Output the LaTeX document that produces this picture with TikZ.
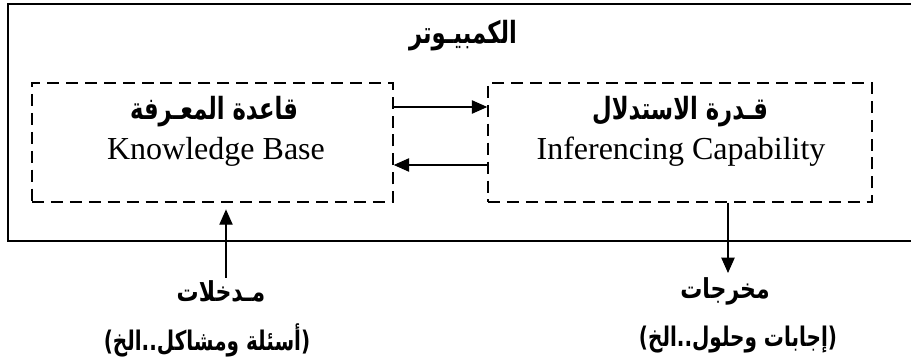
\documentclass[tikz,border=0pt]{standalone}
\usepackage{fontspec}
\setmainfont{Liberation Serif}
\newfontfamily\arb[Script=Arabic]{DejaVu Sans}
\TeXXeTstate=1
\usetikzlibrary{arrows.meta,calc}

% heavy, slightly tall Arabic line
\newcommand{\artext}[2][1.35]{\scalebox{1}[#1]{\arb\bfseries\beginR #2\endR}}

\tikzset{
  frame/.style={line width=1.5pt},
  dashbox/.style={draw, line width=1.1pt, dash pattern=on 9pt off 5.2pt,
    minimum height=89.25pt, inner sep=0pt},
  arr/.style={line width=0.9pt, -{Triangle[length=11.5pt,width=10pt]}},
  entxt/.style={font=\fontsize{24}{27}\selectfont},
  artitle/.style={font=\fontsize{17}{20}\selectfont},
  arlab/.style={font=\fontsize{16.5}{19}\selectfont},
  arnote/.style={font=\fontsize{15}{18}\selectfont},
}

\begin{document}
\begin{tikzpicture}[x=0.75pt,y=-0.75pt]
  \clip (0,0) rectangle (911,359);

  % the computer: open on the right side
  \draw[frame] (8,4) rectangle (930,241);
  \node[artitle] (title) at (463,36) {\artext{الكمبيـوتر}};

  % the two inner units
  \node[dashbox, minimum width=270.75pt] (kb) at (212.5,142.5) {};
  \node[dashbox, minimum width=288pt] (ic) at (680,142.5) {};

  \node[artitle] (kbar) at (214,112) {\artext{قاعدة المعـرفة}};
  \node[entxt, anchor=base] (kben) at (216,160) {Knowledge Base};
  \node[artitle] (icar) at (680,112) {\artext{قـدرة الاستدلال}};
  \node[entxt, anchor=base] (icen) at (681,160) {Inferencing Capability};

  % exchange between the units
  \draw[arr] ($(kb.east)+(0,-35.5)$) -- ($(ic.west)+(0,-35.5)$);
  \draw[arr] ($(ic.west)+(0,22.5)$) -- ($(kb.east)+(0,22.5)$);

  % inputs
  \node[arlab] (in) at (221,291) {\artext[1.25]{مـدخلات}};
  \node[arnote] (inx) at (207,340) {\artext[1.35]{(أسئلة ومشاكل..الخ)}};
  \coordinate (inbase) at (226,278);
  \draw[arr, shorten >=5pt] (inbase) -- (inbase |- kb.south);

  % outputs
  \node[arlab] (out) at (725,291) {\artext[1.25]{مخرجات}};
  \node[arnote] (outx) at (738,340) {\artext[1.35]{(إجابات وحلول..الخ)}};
  \coordinate (outtip) at (728,273);
  \draw[arr] (outtip |- ic.south) -- (outtip);
\end{tikzpicture}
\end{document}
